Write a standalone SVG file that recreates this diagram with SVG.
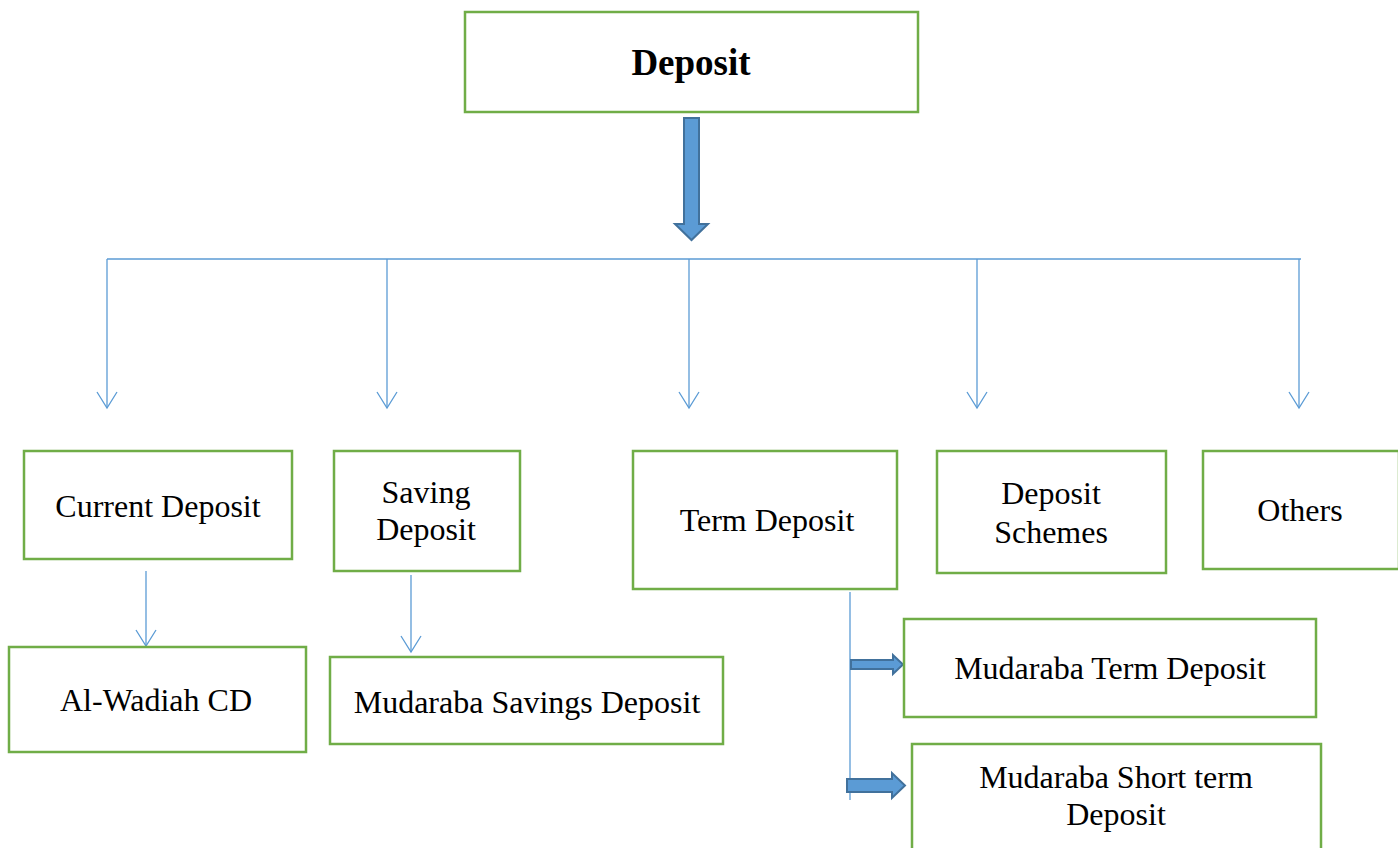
<svg xmlns="http://www.w3.org/2000/svg" width="1398" height="848" viewBox="0 0 1398 848">
<defs>
<style>
.box{fill:#fff;stroke:#70AD47;stroke-width:2.5}
.t{font-family:"Liberation Serif","Times New Roman",serif;font-size:32px;fill:#000;text-anchor:middle}
.b{font-weight:bold;font-size:37px}
.ln{fill:none;stroke:#5B9BD5;stroke-width:1.3}
.blk{fill:#5B9BD5;stroke:#41719C;stroke-width:2}
</style>
<marker id="v" markerWidth="20" markerHeight="24" refX="17" refY="11" orient="auto" markerUnits="userSpaceOnUse" viewBox="0 0 20 22">
<path d="M1,1 L17,11 L1,21" fill="none" stroke="#5B9BD5" stroke-width="1.3"/>
</marker>
</defs>
<rect width="1398" height="848" fill="#fff"/>
<g id="connectors">
<path class="blk" d="M684,118 H699 V224 H708 L691.5,240 L675,224 H684 Z"/>
<path class="ln" d="M107,259 H1301"/>
<path class="ln" d="M107,259 V408" marker-end="url(#v)"/>
<path class="ln" d="M387,259 V408" marker-end="url(#v)"/>
<path class="ln" d="M689,259 V408" marker-end="url(#v)"/>
<path class="ln" d="M977,259 V408" marker-end="url(#v)"/>
<path class="ln" d="M1299,259 V408" marker-end="url(#v)"/>
<path class="ln" d="M146,571 V646" marker-end="url(#v)"/>
<path class="ln" d="M411,575 V652" marker-end="url(#v)"/>
<path class="ln" d="M850,592 V800"/>
<path class="blk" d="M851,660 H893 V655 L903,664.5 L893,674 V669 H851 Z"/>
<path class="blk" d="M847,779 H892 V773 L905,785.5 L892,798 V792 H847 Z"/>
</g>
<g id="deposit"><rect class="box" x="465" y="12" width="453" height="100"/><text class="t b" x="691" y="75">Deposit</text></g>
<g id="current"><rect class="box" x="24" y="451" width="268" height="108"/><text class="t" x="158" y="517">Current Deposit</text></g>
<g id="saving"><rect class="box" x="334" y="451" width="186" height="120"/><text class="t" x="426" y="503">Saving</text><text class="t" x="426" y="540">Deposit</text></g>
<g id="term"><rect class="box" x="633" y="451" width="264" height="138"/><text class="t" x="767" y="531">Term Deposit</text></g>
<g id="schemes"><rect class="box" x="937" y="451" width="229" height="122"/><text class="t" x="1051" y="504">Deposit</text><text class="t" x="1051" y="543">Schemes</text></g>
<g id="others"><rect class="box" x="1203" y="451" width="196" height="118"/><text class="t" x="1300" y="521">Others</text></g>
<g id="alwadiah"><rect class="box" x="9" y="647" width="297" height="105"/><text class="t" x="156" y="711">Al-Wadiah CD</text></g>
<g id="msd"><rect class="box" x="330" y="657" width="393" height="87"/><text class="t" x="527" y="713">Mudaraba Savings Deposit</text></g>
<g id="mtd"><rect class="box" x="904" y="619" width="412" height="98"/><text class="t" x="1110" y="679">Mudaraba Term Deposit</text></g>
<g id="mstd"><rect class="box" x="912" y="744" width="409" height="120"/><text class="t" x="1116" y="788">Mudaraba Short term</text><text class="t" x="1116" y="825">Deposit</text></g>
</svg>
